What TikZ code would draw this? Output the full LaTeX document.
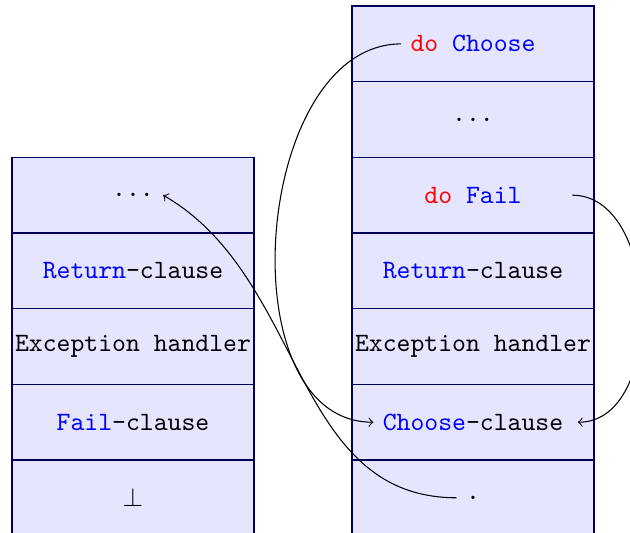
\documentclass[tikz,border=0pt]{standalone}
\usepackage{xcolor}
\begin{document}
\begin{tikzpicture}[x=0.37825pt,y=-0.37825pt,
  cell/.style={draw=blue!35!black, fill=blue!10},
  lbl/.style={font=\ttfamily},
  conn/.style={->, black}]
\useasboundingbox (0,0) rectangle (630,533);
\clip (0,0) rectangle (630,533);
% left stack
\foreach \a/\b in {157.3/233.0, 233.0/308.7, 308.7/384.3, 384.3/460.0, 460.0/560}
  \draw[cell] (12,\a) rectangle (254,\b);
% right stack
\foreach \a/\b in {6.0/81.7, 81.7/157.3, 157.3/233.0, 233.0/308.7, 308.7/384.3, 384.3/460.0, 460.0/560}
  \draw[cell] (352,\a) rectangle (594,\b);
% left labels
\node[lbl] (ldots) at (133,195.2) {...};
\node[lbl] (lret) at (133,271) {\textcolor{blue}{Return}-clause};
\node[lbl] (lexc) at (133,346.5) {Exception handler};
\node[lbl] (lfail) at (133,422.2) {\textcolor{blue}{Fail}-clause};
\node (lbot) at (133,497.8) {$\bot$};
% right labels
\node[lbl] (rdo) at (473,43.9) {\textcolor{red}{do} \textcolor{blue}{Choose}};
\node[lbl] (rdots) at (473,119.5) {...};
\node[lbl] (rfail) at (473,195.2) {\textcolor{red}{do} \textcolor{blue}{Fail}};
\node[lbl] (rret) at (473,271) {\textcolor{blue}{Return}-clause};
\node[lbl] (rexc) at (473,346.5) {Exception handler};
\node[lbl] (rcho) at (473,422.2) {\textcolor{blue}{Choose}-clause};
\node[lbl] (rdot) at (473,497.8) {.};
% connectors
\draw[conn] (rdo.west) to[out=180,in=180] (rcho.west);
\draw[conn] ([xshift=15.7pt]rfail.east) to[out=0,in=0] ([xshift=2pt]rcho.east);
\draw[conn] (rdot.west) to[out=180,in=-30] (ldots.east);
\end{tikzpicture}
\end{document}
